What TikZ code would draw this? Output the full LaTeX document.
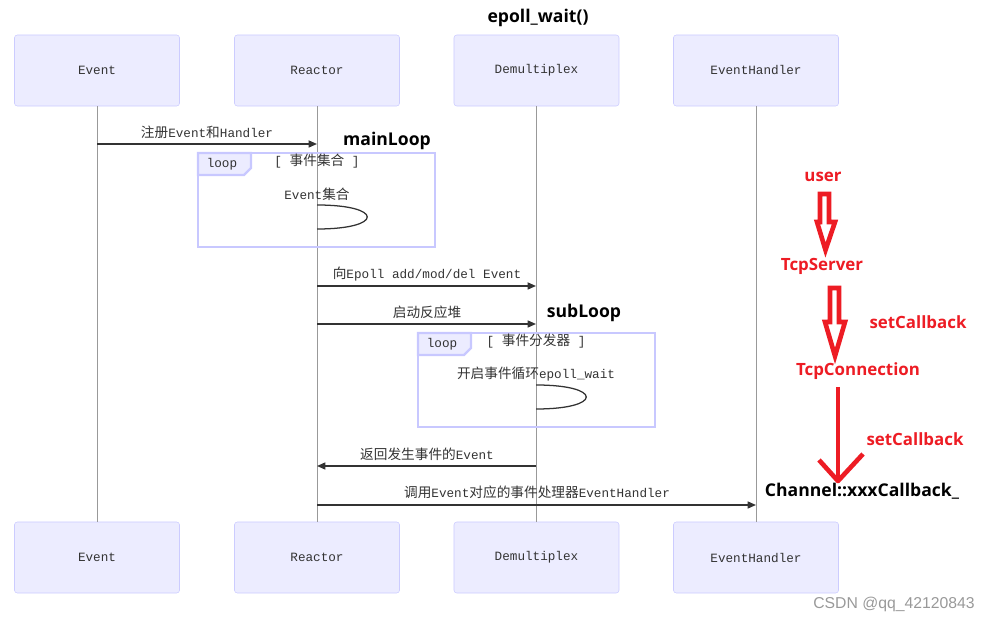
\documentclass[tikz,border=0pt]{standalone}
\usepackage{fontspec}
\setmainfont{Liberation Mono}
\newfontfamily\cjk[Scale=1.08]{Noto Sans CJK SC}
\newfontfamily\boldsans{Open Sans}
\newfontfamily\marksans{Liberation Sans}
\usetikzlibrary{positioning, arrows.meta}

\definecolor{actorfill}{HTML}{ECECFF}
\definecolor{actorline}{HTML}{CCCCFF}
\definecolor{loopline}{HTML}{C8C8FF}
\definecolor{msgline}{HTML}{333333}
\definecolor{msgtext}{HTML}{333333}
\definecolor{lifeline}{HTML}{999999}
\definecolor{markred}{HTML}{ED1C24}

\newcommand{\zhtext}[1]{{\cjk #1}}

\tikzset{
  actor/.style={draw=actorline, fill=actorfill, rounded corners=2pt,
    minimum width=4.125cm, minimum height=1.775cm,
    font=\fontsize{9}{11}\selectfont, text=msgtext},
  msg/.style={-{Triangle[length=6pt,width=5pt]}, line width=1.1pt, draw=msgline},
  msglabel/.style={font=\fontsize{9}{11}\selectfont, text=msgtext, inner sep=0pt},
  loopframe/.style={draw=loopline, line width=1.6pt},
  selfloop/.style={draw=msgline, line width=0.9pt},
  bignote/.style={font=\boldsans\bfseries\fontsize{12.5}{14}\selectfont, inner sep=0pt},
  rednote/.style={font=\boldsans\bfseries\fontsize{12}{14}\selectfont, text=markred, inner sep=0pt},
  redarrow/.style={draw=markred, line width=3.3pt},
}

\begin{document}
\begin{tikzpicture}[x=0.025cm, y=-0.025cm]
    \useasboundingbox (0,0) rectangle (994,622);

    % 參與者 (上)
    \node[actor] (evTop) at (97,70.5) {Event};
    \node[actor] (reTop) at (317,70.5) {Reactor};
    \node[actor] (deTop) at (536.5,70.5) {Demultiplex};
    \node[actor] (ehTop) at (756,70.5) {EventHandler};

    % 參與者 (下)
    \node[actor] (evBot) at (97,557.5) {Event};
    \node[actor] (reBot) at (317,557.5) {Reactor};
    \node[actor] (deBot) at (536.5,557.5) {Demultiplex};
    \node[actor] (ehBot) at (756,557.5) {EventHandler};

    % 生命線
    \draw[lifeline, line width=0.6pt] (evTop.south) -- (evBot.north);
    \draw[lifeline, line width=0.6pt] (reTop.south) -- (reBot.north);
    \draw[lifeline, line width=0.6pt] (deTop.south) -- (deBot.north);
    \draw[lifeline, line width=0.6pt] (ehTop.south) -- (ehBot.north);

    % 迴圈框 mainLoop
    \draw[loopframe] (198,153) rectangle (435,247);
    \draw[loopframe, fill=actorfill] (198,153) -- (251,153) -- (251,168) -- (244,175) -- (198,175) -- cycle;
    \node[msglabel] (loopA) at (222,164) {loop};
    \node[msglabel] (condA) at (317,161) {[ \zhtext{事件集合} ]};

    % 迴圈框 subLoop
    \draw[loopframe] (418,333) rectangle (655,427);
    \draw[loopframe, fill=actorfill] (418,333) -- (471,333) -- (471,348) -- (464,355) -- (418,355) -- cycle;
    \node[msglabel] (loopB) at (442,344) {loop};
    \node[msglabel] (condB) at (536,341) {[ \zhtext{事件分发器} ]};

    % 訊息 1
    \coordinate (m1s) at (97,144);
    \coordinate (m1e) at (317,144);
    \draw[msg] (m1s) -- (m1e);
    \node[msglabel] (m1) at (207,132) {\zhtext{注册}Event\zhtext{和}Handler};

    % 自身迴圈 1
    \coordinate (s1a) at (317,205);
    \coordinate (s1b) at (317,229);
    \draw[selfloop] (s1a) .. controls (384,205) and (384,229) .. (s1b);
    \node[msglabel] (s1) at (317,194) {Event\zhtext{集合}};

    % 訊息 2
    \coordinate (m2s) at (317,286);
    \coordinate (m2e) at (536,286);
    \draw[msg] (m2s) -- (m2e);
    \node[msglabel] (m2) at (427,274) {\zhtext{向}Epoll add/mod/del Event};

    % 訊息 3
    \coordinate (m3s) at (317,324);
    \coordinate (m3e) at (536,324);
    \draw[msg] (m3s) -- (m3e);
    \node[msglabel] (m3) at (427,312) {\zhtext{启动反应堆}};

    % 自身迴圈 2
    \coordinate (s2a) at (536,385);
    \coordinate (s2b) at (536,409);
    \draw[selfloop] (s2a) .. controls (603,385) and (603,409) .. (s2b);
    \node[msglabel] (s2) at (536,374) {\zhtext{开启事件循环}epoll\_wait};

    % 訊息 4
    \coordinate (m4s) at (536,466);
    \coordinate (m4e) at (317,466);
    \draw[msg] (m4s) -- (m4e);
    \node[msglabel] (m4) at (427,454) {\zhtext{返回发生事件的}Event};

    % 訊息 5
    \coordinate (m5s) at (317,505);
    \coordinate (m5e) at (756,505);
    \draw[msg] (m5s) -- (m5e);
    \node[msglabel] (m5) at (537,492) {\zhtext{调用}Event\zhtext{对应的事件处理器}EventHandler};

    % 標註
    \node[bignote] (waitNote) at (538,18) {epoll\_wait()};
    \node[bignote] (mainNote) at (387,141) {mainLoop};
    \node[bignote] (subNote) at (584,313) {subLoop};
    \node[bignote] (chNote) at (862,491) {Channel::xxxCallback\_};

    % 紅色標註
    \node[rednote] (user) at (823,177) {user};
    \node[rednote] (tcpServer) at (822,266) {TcpServer};
    \node[rednote] (setCbA) at (918,322) {setCallback};
    \node[rednote] (tcpConn) at (858,371) {TcpConnection};
    \node[rednote] (setCbB) at (915,439) {setCallback};

    % 空心箭頭
    \draw[redarrow] (820,194) -- (829,194) -- (829,222) -- (835,222) -- (825.5,250) -- (817,222) -- (820,222) -- cycle;
    \draw[redarrow] (830,288) -- (839,288) -- (839,322) -- (845,322) -- (835,356) -- (825,322) -- (830,322) -- cycle;

    % 箭頭
    \coordinate (cbTop) at (838,387);
    \coordinate (cbTip) at (838,481);
    \draw[redarrow] (cbTop) -- (cbTip);
    \draw[redarrow, line join=round] (819,460) -- (cbTip) -- (863,454);

    % 浮水印
    \node[font=\marksans\fontsize{11.2}{13}\selectfont, text=black!40, inner sep=0pt] (mark) at (894,604) {CSDN @qq\_42120843};
  \end{tikzpicture}
\end{document}
